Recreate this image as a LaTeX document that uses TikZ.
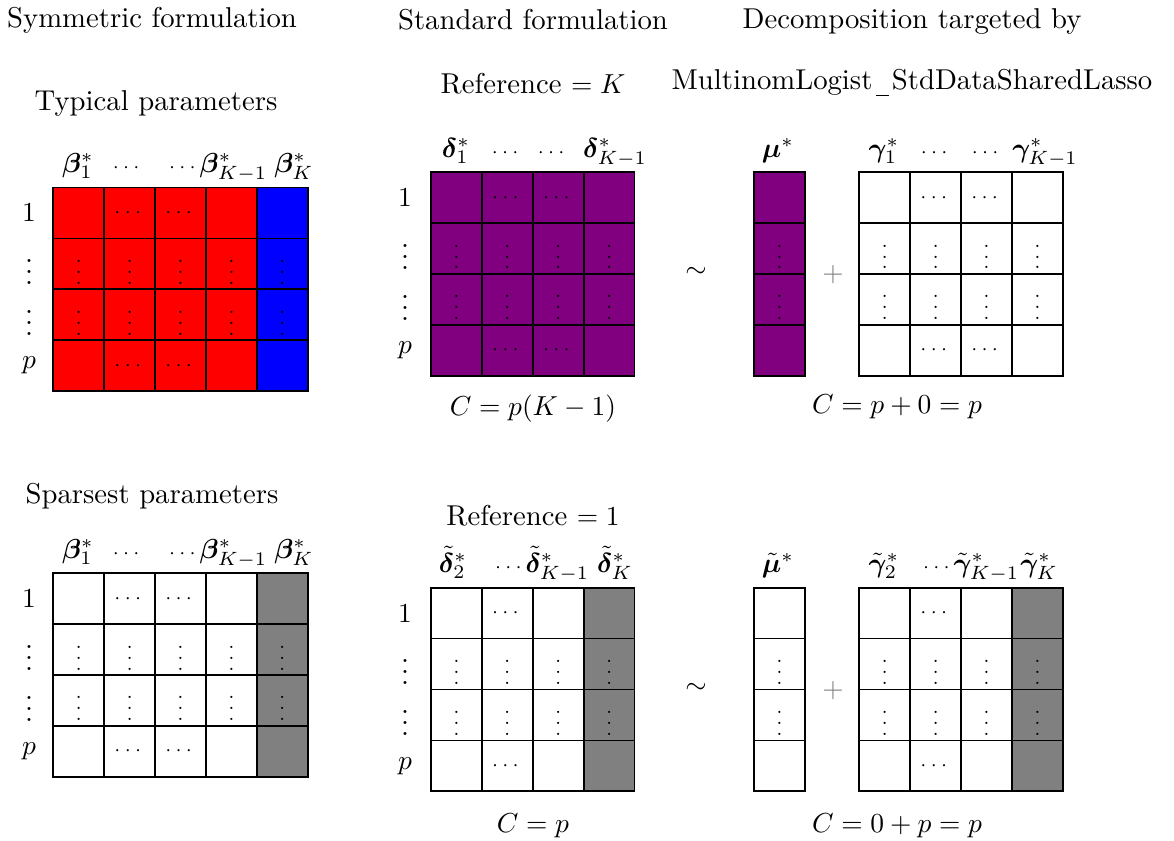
\documentclass[tikz,border=0pt]{standalone}
\usepackage{amsmath,bm}
\definecolor{mypurple}{RGB}{128,0,128}
\definecolor{mygray}{RGB}{128,128,128}
\newcommand\mainsize{\fontsize{10.45}{12.5}\selectfont}
\newcommand\myus{\kern1.2pt\rule[-2.5pt]{4.7pt}{0.4pt}\kern1.2pt}
\tikzset{
  cell/.style={draw=black, line width=0.6pt, minimum width=18.53pt, minimum height=18.53pt,
    inner sep=0pt, outer sep=0pt, font=\scriptsize},
  hdr/.style={anchor=base, inner sep=0pt, outer sep=0pt, font=\mainsize},
  lbl/.style={inner sep=0pt, outer sep=0pt, font=\mainsize},
  ttl/.style={anchor=base, inner sep=0pt, outer sep=0pt, font=\mainsize},
  opsym/.style={inner sep=0pt, outer sep=0pt, font=\mainsize},
}
% cell content: #1 row, #2 column, #3 type (0: no cdots, 1: cdots in col 2, 2: cdots in cols 2,3)
\newcommand\cellsym[3]{%
  \ifnum#1=2 $\vdots$\else
  \ifnum#1=3 $\vdots$\else
  \ifnum#2=2 \ifnum#3>0 $\cdots$\fi\else
  \ifnum#2=3 \ifnum#3>1 $\cdots$\fi\fi
  \fi\fi\fi}
\begin{document}
\begin{tikzpicture}[x=0.364pt,y=-0.364pt]
\useasboundingbox (0,0) rectangle (1174,840);

% ---------- titles ----------
\node[ttl] (t1) at (152,27) {Symmetric formulation};
\node[ttl] (t2) at (533,29) {Standard formulation};
\node[ttl] (t3) at (912,28) {Decomposition targeted by};
\node[ttl] (t4) at (533,93) {Reference $=K$};
\node[ttl] (t5) at (912,89) {MultinomLogist\myus StdDataSharedLasso};
\node[ttl] (t6) at (156,110) {Typical parameters};
\node[ttl] (t7) at (152,503) {Sparsest parameters};
\node[ttl] (t8) at (533,525) {Reference $=1$};

% ---------- top left grid ----------
\foreach \r in {1,...,4}{\foreach \c in {1,...,5}{
  \ifnum\c=5 \def\fc{blue}\else\def\fc{red}\fi
  \node[cell, fill=\fc] (tl-\r-\c) at ({53.3+(\c-0.5)*50.9},{187.5+(\r-0.5)*50.9}) {\cellsym{\r}{\c}{2}};
}}
\node[hdr] (tlh1) at (78,172) {$\bm{\beta}^*_1$};
\node[hdr] (tlh2) at (128,172) {\scriptsize$\cdots$};
\node[hdr] (tlh3) at (218,172) {{\scriptsize$\cdots$}$\bm{\beta}^*_{K-1}$};
\node[hdr] (tlh4) at (294,172) {$\bm{\beta}^*_K$};
\node[lbl] (tlr1) at (29,{187.5+0.5*50.9}) {$1$};
\node[lbl] (tlr2) at (29,{187.5+1.5*50.9}) {$\vdots$};
\node[lbl] (tlr3) at (29,{187.5+2.5*50.9}) {$\vdots$};
\node[lbl] (tlr4) at (29,{187.5+3.5*50.9}) {$p$};

% ---------- top middle grid ----------
\foreach \r in {1,...,4}{\foreach \c in {1,...,4}{
  \node[cell, fill=mypurple] (tm-\r-\c) at ({431+(\c-0.5)*50.9},{172.3+(\r-0.5)*50.9}) {\cellsym{\r}{\c}{2}};
}}
\node[hdr] (tmh1) at (456,157) {$\bm{\delta}^*_1$};
\node[hdr] (tmh2) at (507,157) {\scriptsize$\cdots$};
\node[hdr] (tmh3) at (553,157) {\scriptsize$\cdots$};
\node[hdr] (tmh4) at (615,157) {$\bm{\delta}^*_{K-1}$};
\node[lbl] (tmr1) at (405,{172.3+0.5*50.9}) {$1$};
\node[lbl] (tmr2) at (405,{172.3+1.5*50.9}) {$\vdots$};
\node[lbl] (tmr3) at (405,{172.3+2.5*50.9}) {$\vdots$};
\node[lbl] (tmr4) at (405,{172.3+3.5*50.9}) {$p$};
\node[ttl] (tmc) at (533,415) {$C=p(K-1)$};

% ---------- top right ----------
\node[opsym] (sim1) at (696,272) {$\sim$};
\foreach \r in {1,...,4}{
  \node[cell, fill=mypurple] (tmu-\r) at ({754+0.5*50.9},{172.3+(\r-0.5)*50.9}) {\cellsym{\r}{1}{0}};
}
\node[hdr] (tmuh) at (778,157) {$\bm{\mu}^*$};
\node[opsym, text=mygray] (plus1) at (833,275) {$+$};
\foreach \r in {1,...,4}{\foreach \c in {1,...,4}{
  \node[cell, fill=white] (tg-\r-\c) at ({859.3+(\c-0.5)*50.9},{172.3+(\r-0.5)*50.9}) {\cellsym{\r}{\c}{2}};
}}
\node[hdr] (tgh1) at (884,157) {$\bm{\gamma}^*_1$};
\node[hdr] (tgh2) at (936,157) {\scriptsize$\cdots$};
\node[hdr] (tgh3) at (987,157) {\scriptsize$\cdots$};
\node[hdr] (tgh4) at (1045,157) {$\bm{\gamma}^*_{K-1}$};
\node[ttl] (trc) at (897,413) {$C=p+0=p$};

% ---------- bottom left grid ----------
\foreach \r in {1,...,4}{\foreach \c in {1,...,5}{
  \ifnum\c=5 \def\fc{mygray}\else\def\fc{white}\fi
  \node[cell, fill=\fc] (bl-\r-\c) at ({53.3+(\c-0.5)*50.9},{573.3+(\r-0.5)*50.9}) {\cellsym{\r}{\c}{2}};
}}
\node[hdr] (blh1) at (78,558) {$\bm{\beta}^*_1$};
\node[hdr] (blh2) at (128,558) {\scriptsize$\cdots$};
\node[hdr] (blh3) at (218,558) {{\scriptsize$\cdots$}$\bm{\beta}^*_{K-1}$};
\node[hdr] (blh4) at (294,558) {$\bm{\beta}^*_K$};
\node[lbl] (blr1) at (29,{573.3+0.5*50.9}) {$1$};
\node[lbl] (blr2) at (29,{573.3+1.5*50.9}) {$\vdots$};
\node[lbl] (blr3) at (29,{573.3+2.5*50.9}) {$\vdots$};
\node[lbl] (blr4) at (29,{573.3+3.5*50.9}) {$p$};

% ---------- bottom middle grid ----------
\foreach \r in {1,...,4}{\foreach \c in {1,...,4}{
  \ifnum\c=4 \def\fc{mygray}\else\def\fc{white}\fi
  \node[cell, fill=\fc] (bm-\r-\c) at ({431+(\c-0.5)*50.9},{587.7+(\r-0.5)*50.9}) {\cellsym{\r}{\c}{1}};
}}
\node[hdr] (bmh1) at (453,572) {$\tilde{\bm{\delta}}^*_2$};
\node[hdr] (bmh2) at (542,572) {{\scriptsize$\cdots$}$\tilde{\bm{\delta}}^*_{K-1}$};
\node[hdr] (bmh3) at (615,572) {$\tilde{\bm{\delta}}^*_K$};
\node[lbl] (bmr1) at (405,{587.7+0.5*50.9}) {$1$};
\node[lbl] (bmr2) at (405,{587.7+1.5*50.9}) {$\vdots$};
\node[lbl] (bmr3) at (405,{587.7+2.5*50.9}) {$\vdots$};
\node[lbl] (bmr4) at (405,{587.7+3.5*50.9}) {$p$};
\node[ttl] (bmc) at (533,832) {$C=p$};

% ---------- bottom right ----------
\node[opsym] (sim2) at (696,688) {$\sim$};
\foreach \r in {1,...,4}{
  \node[cell, fill=white] (bmu-\r) at ({754+0.5*50.9},{587.7+(\r-0.5)*50.9}) {\cellsym{\r}{1}{0}};
}
\node[hdr] (bmuh) at (778,572) {$\tilde{\bm{\mu}}^*$};
\node[opsym, text=mygray] (plus2) at (833,691) {$+$};
\foreach \r in {1,...,4}{\foreach \c in {1,...,4}{
  \ifnum\c=4 \def\fc{mygray}\else\def\fc{white}\fi
  \node[cell, fill=\fc] (bg-\r-\c) at ({859.3+(\c-0.5)*50.9},{587.7+(\r-0.5)*50.9}) {\cellsym{\r}{\c}{1}};
}}
\node[hdr] (bgh1) at (884,572) {$\tilde{\bm{\gamma}}^*_2$};
\node[hdr] (bgh2) at (971,572) {{\scriptsize$\cdots$}$\tilde{\bm{\gamma}}^*_{K-1}$};
\node[hdr] (bgh3) at (1039,572) {$\tilde{\bm{\gamma}}^*_K$};
\node[ttl] (brc) at (897,832) {$C=0+p=p$};
\end{tikzpicture}
\end{document}
